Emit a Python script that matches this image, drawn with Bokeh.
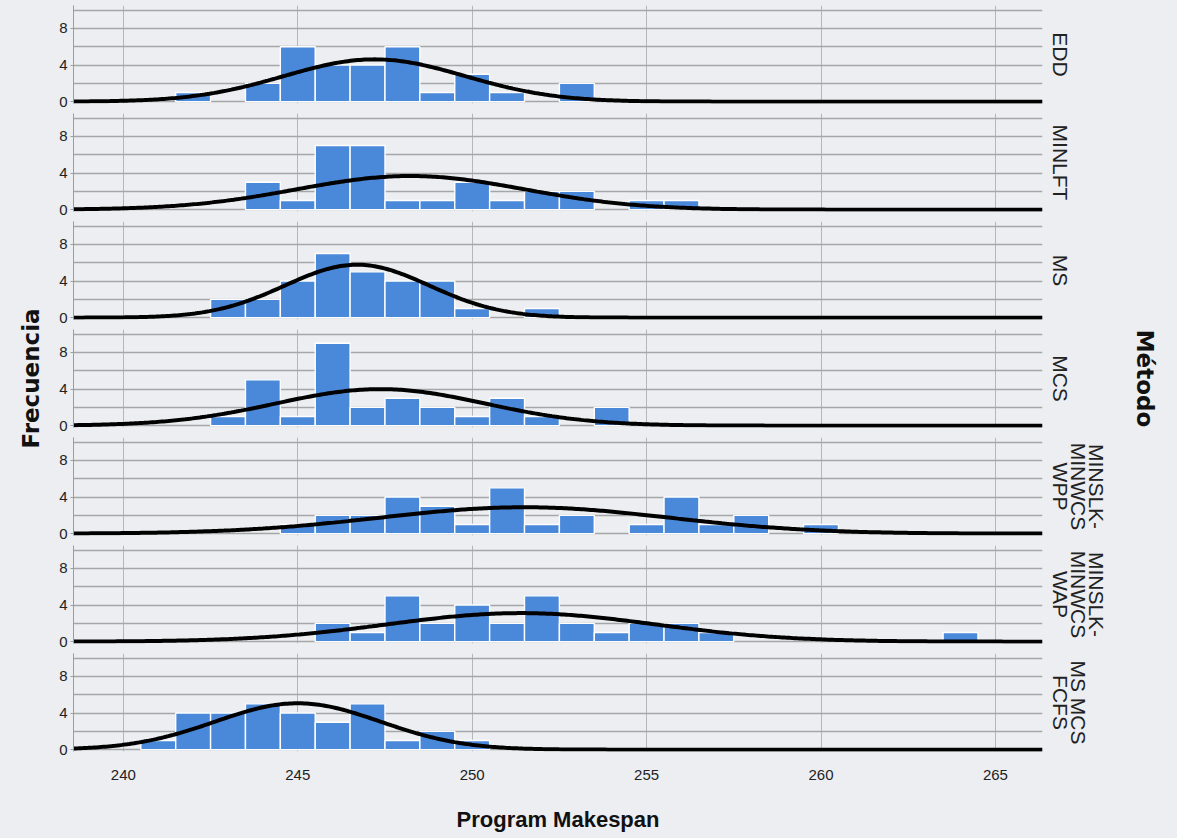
import numpy as np
from bokeh.plotting import figure
from bokeh.layouts import column, row
from bokeh.models import FixedTicker, Label, ColumnDataSource, LinearAxis
from bokeh.embed import file_html
from bokeh.resources import INLINE

# ---------------- data ----------------
bin_centers = [241, 242, 243, 244, 245, 246, 247, 248, 249, 250, 251, 252,
               253, 254, 255, 256, 257, 258, 259, 260, 261, 262, 263, 264]
x_ticks = [240, 245, 250, 255, 260, 265]
y_ticks = [0, 4, 8]
y_grid = [0, 2, 4, 6, 8, 10]

methods = ["EDD", "MINLFT", "MS", "MCS",
           "MINSLK-\nMINWCS\nWPP", "MINSLK-\nMINWCS\nWAP", "MS MCS\nFCFS"]

counts_edd    = [0, 1, 0, 2, 6, 4, 4, 6, 1, 3, 1, 0, 2, 0, 0, 0, 0, 0, 0, 0, 0, 0, 0, 0]
counts_minlft = [0, 0, 0, 3, 1, 7, 7, 1, 1, 3, 1, 2, 2, 0, 1, 1, 0, 0, 0, 0, 0, 0, 0, 0]
counts_ms     = [0, 0, 2, 2, 4, 7, 5, 4, 4, 1, 0, 1, 0, 0, 0, 0, 0, 0, 0, 0, 0, 0, 0, 0]
counts_mcs    = [0, 0, 1, 5, 1, 9, 2, 3, 2, 1, 3, 1, 0, 2, 0, 0, 0, 0, 0, 0, 0, 0, 0, 0]
counts_wpp    = [0, 0, 0, 0, 1, 2, 2, 4, 3, 1, 5, 1, 2, 0, 1, 4, 1, 2, 0, 1, 0, 0, 0, 0]
counts_wap    = [0, 0, 0, 0, 0, 2, 1, 5, 2, 4, 2, 5, 2, 1, 2, 2, 1, 0, 0, 0, 0, 0, 0, 1]
counts_fcfs   = [1, 4, 4, 5, 4, 3, 5, 1, 2, 1, 0, 0, 0, 0, 0, 0, 0, 0, 0, 0, 0, 0, 0, 0]

all_counts = [counts_edd, counts_minlft, counts_ms, counts_mcs,
              counts_wpp, counts_wap, counts_fcfs]

x_label = "Program Makespan"
y_label = "Frecuencia"
facet_label = "Método"

# ---------------- style ----------------
BG = "#eceef1"
BAR = "#4a88da"
X0, X1 = 238.57, 266.35
FONT = "Liberation Sans"
FRAME_W, FRAME_H = 969, 98
LEFT_W, RIGHT_W = 45, 66
BORDER_L, BORDER_R = 28, 64
TOP0, GAP, LAST_BOTTOM = 5, 10, 84

figs = []
n_panels = len(methods)
for i, (name, counts) in enumerate(zip(methods, all_counts)):
    last = (i == n_panels - 1)
    p = figure(frame_width=FRAME_W, frame_height=FRAME_H,
               x_range=(X0, X1), y_range=(-0.2, 10.5),
               output_backend="svg", toolbar_location=None,
               min_border_left=BORDER_L, min_border_right=BORDER_R,
               min_border_top=TOP0 if i == 0 else 0,
               min_border_bottom=LAST_BOTTOM if last else GAP)
    p.background_fill_color = BG
    p.border_fill_color = BG
    p.outline_line_color = None

    # grids
    p.xgrid.ticker = FixedTicker(ticks=x_ticks)
    p.xgrid.grid_line_color = "#b4b6b9"
    p.xgrid.grid_line_width = 1
    p.ygrid.ticker = FixedTicker(ticks=y_grid)
    p.ygrid.grid_line_color = "#a4a6a9"
    p.ygrid.grid_line_width = 1.6

    # bars
    sel = [k for k, c in enumerate(counts) if c > 0]
    src = ColumnDataSource(dict(
        left=[bin_centers[k] - 0.5 for k in sel],
        right=[bin_centers[k] + 0.5 for k in sel],
        top=[counts[k] for k in sel]))
    p.quad(left="left", right="right", bottom=0, top="top", source=src,
           fill_color=BAR, line_color="white", line_width=1.4)

    # fitted normal curve (from the histogram counts)
    xc = np.array(bin_centers, dtype=float)
    cc = np.array(counts, dtype=float)
    n = cc.sum()
    mu = (cc * xc).sum() / n
    sd = np.sqrt((cc * (xc - mu) ** 2).sum() / (n - 1))
    xs = np.linspace(X0, X1, 400)
    ys = n / (sd * np.sqrt(2 * np.pi)) * np.exp(-0.5 * ((xs - mu) / sd) ** 2)
    p.line(xs, ys, line_color="black", line_width=4)

    # y axis
    p.yaxis.ticker = FixedTicker(ticks=y_ticks)
    p.yaxis.axis_line_color = "#9a9c9f"
    p.yaxis.major_tick_line_color = "#9a9c9f"
    p.yaxis.major_tick_out = 3
    p.yaxis.major_tick_in = 0
    p.yaxis.minor_tick_line_color = None
    p.yaxis.major_label_standoff = 3
    p.yaxis.major_label_text_font = FONT
    p.yaxis.major_label_text_font_size = "15px"
    p.yaxis.major_label_text_color = "#222222"

    # x axis
    if last:
        p.xaxis.ticker = FixedTicker(ticks=x_ticks)
        p.xaxis.axis_line_color = None
        p.xaxis.major_tick_line_color = None
        p.xaxis.minor_tick_line_color = None
        p.xaxis.major_label_standoff = 12
        p.xaxis.major_label_text_font = FONT
        p.xaxis.major_label_text_font_size = "15px"
        p.xaxis.major_label_text_color = "#222222"
        p.xaxis.axis_label = x_label
        p.xaxis.axis_label_standoff = 24
        p.xaxis.axis_label_text_font = FONT
        p.xaxis.axis_label_text_font_style = "bold"
        p.xaxis.axis_label_text_font_size = "22px"
        p.xaxis.axis_label_text_color = "#111111"
    else:
        p.xaxis.visible = False

    # facet label on the right (axis label of an empty right axis)
    rax = LinearAxis(ticker=FixedTicker(ticks=[]), axis_label=name,
                     axis_line_color=None, major_tick_line_color=None,
                     minor_tick_line_color=None, axis_label_standoff=6,
                     axis_label_text_font=FONT, axis_label_text_font_size="21px",
                     axis_label_text_font_style="normal",
                     axis_label_text_line_height=0.8,
                     axis_label_text_color="#222222")
    p.add_layout(rax, "right")
    figs.append(p)

TOTAL_H = TOP0 + n_panels * FRAME_H + (n_panels - 1) * GAP + LAST_BOTTOM
LABEL_Y = TOTAL_H - 378  # vertical centre of the side titles


def side_fig(w, text, x, angle):
    f = figure(width=w, height=TOTAL_H, x_range=(0, w), y_range=(0, TOTAL_H),
               output_backend="svg", toolbar_location=None,
               x_axis_location=None, y_axis_location=None, min_border=0)
    f.grid.visible = False
    f.outline_line_color = None
    f.background_fill_color = BG
    f.border_fill_color = BG
    f.add_layout(Label(x=x, y=LABEL_Y, text=text, angle=angle,
                       text_align="center", text_baseline="middle",
                       text_font="DejaVu Sans", text_font_style="bold",
                       text_font_size="23px", text_color="#111111"))
    return f


left_fig = side_fig(LEFT_W, y_label, 30, np.pi / 2)
right_fig = side_fig(RIGHT_W, facet_label, 33, -np.pi / 2)

layout = row(left_fig, column(*figs, spacing=0), right_fig, spacing=0)
html = file_html(layout, INLINE)
html = html.replace("<head>", "<head><style>body{background:%s;}</style>" % BG, 1)
open("out.html", "w").write(html)
